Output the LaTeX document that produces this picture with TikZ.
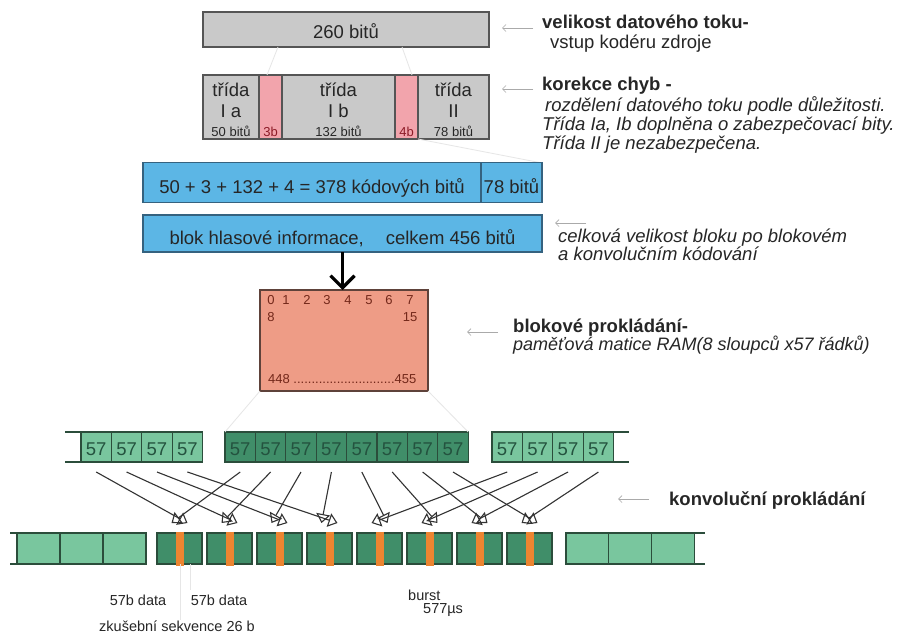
\documentclass[tikz,border=0pt]{standalone}
\usepackage{fontspec}
\setmainfont{Liberation Sans}
\usetikzlibrary{arrows.meta,positioning}

\definecolor{bitgray}{HTML}{C9C9C9}
\definecolor{boxline}{HTML}{555555}
\definecolor{paritypink}{HTML}{F2A4AC}
\definecolor{paritytext}{HTML}{8C1B27}
\definecolor{codeblue}{HTML}{5CB6E5}
\definecolor{blueline}{HTML}{35627F}
\definecolor{ramfill}{HTML}{EE9C86}
\definecolor{ramline}{HTML}{5E423A}
\definecolor{ramtext}{HTML}{73281A}
\definecolor{lightgreen}{HTML}{79C69E}
\definecolor{darkgreen}{HTML}{408E69}
\definecolor{greenline}{HTML}{2B4D3B}
\definecolor{greentext}{HTML}{24533F}
\definecolor{stripe}{HTML}{EC8531}
\definecolor{txt}{HTML}{262626}
\definecolor{ptrgray}{HTML}{AAAAAA}
\definecolor{faintgray}{HTML}{E6E6E6}
\definecolor{mixline}{HTML}{333333}

\newcommand{\bitcount}[1]{{\fontsize{13}{13}\selectfont #1}}

\tikzset{
  bitbox/.style={draw=#1, line width=1.2pt, inner sep=0pt, outer sep=0pt},
  graycell/.style={bitbox=boxline, fill=bitgray, minimum height=64pt, align=center},
  paritycell/.style={bitbox=boxline, fill=paritypink, minimum width=23pt, minimum height=64pt,
    label={[anchor=south, inner sep=2pt, text=paritytext, font=\fontsize{13}{13}\selectfont]south:#1}},
  bluebox/.style={bitbox=blueline, fill=codeblue, minimum height=#1, text height=21pt, text depth=0pt},
  slot/.style={bitbox=greenline, fill=#1, minimum width=30.4pt, minimum height=30pt,
    text=greentext, font=\fontsize{18.5}{18}\selectfont, text height=16pt, text depth=0pt},
  framecell/.style={bitbox=greenline, fill=lightgreen, minimum width=#1, minimum height=31pt},
  burst/.style={bitbox=greenline, fill=darkgreen, minimum width=45pt, minimum height=31pt},
  note/.style={anchor=base west, inner sep=0pt, text=txt},
  burstnote/.style={inner sep=0pt, text=txt, font=\fontsize{14.5}{15}\selectfont},
  ramnum/.style={anchor=base, inner sep=0pt, text=ramtext, font=\fontsize{13}{13}\selectfont},
  ptr/.style={draw=ptrgray, line width=0.7pt, -{Straight Barb[length=3.5pt,width=7pt]}},
  mix/.style={draw=mixline, line width=1.1pt, -{Triangle[open,length=9pt,width=14pt]}},
  feed/.style={line width=3.2pt, -{Straight Barb[length=12pt,width=24pt]}},
  faint/.style={draw=faintgray, line width=0.8pt},
}

\begin{document}
\begin{tikzpicture}[x=1pt, y=-1pt, text=txt, font=\fontsize{18.5}{21}\selectfont]
  \fill[white] (0,0) rectangle (899,637);
  \useasboundingbox (0,0) rectangle (899,637);

  % speech frame and the protection classes
  \node[bitbox=boxline, fill=bitgray, minimum width=286pt, minimum height=35pt,
        text height=17pt, text depth=0pt] (rate) at (346,29.5) {260 bitů};
  \node[graycell, minimum width=56pt] (ia) at (231,107)
    {\rule{0pt}{20pt}třída\\I a\\[-2pt]\bitcount{50 bitů}};
  \node[paritycell=3b] (p3) at (270.5,107) {};
  \node[graycell, minimum width=113pt] (ib) at (338.5,107)
    {\rule{0pt}{20pt}třída\\I b\\[-2pt]\bitcount{132 bitů}};
  \node[paritycell=4b] (p4) at (406.5,107) {};
  \node[graycell, minimum width=71pt] (cii) at (453.5,107)
    {\rule{0pt}{20pt}třída\\II\\[-2pt]\bitcount{78 bitů}};
  \draw[faint] (278,47) -- (267,75) (402,47) -- (412,75);
  \draw[faint] (cii.south west) -- (542,163);

  % coded block
  \node[bluebox=40pt, minimum width=338pt] (coded) at (312,182.5) {50 + 3 + 132 + 4 = 378 kódových bitů};
  \node[bluebox=40pt, minimum width=61pt, anchor=west] (plain) at (coded.east) {78 bitů};
  \node[bluebox=37pt, minimum width=399pt] (blok) at (342.5,233.5)
    {blok hlasové informace,\hspace{22pt}celkem 456 bitů};

  % interleaving matrix
  \node[bitbox=ramline, fill=ramfill, minimum width=168pt, minimum height=101pt] (ram) at (344,340.5) {};
  \draw[feed] (blok.south) -- (blok.south |- ram.north);
  \foreach \c/\x in {0/271,1/286,2/307,3/327,4/348,5/369,6/389,7/410}
    \node[ramnum] (col\c) at (\x,304) {\c};
  \node[ramnum] (row8) at (271,321) {8};
  \node[ramnum] (row15) at (410,321) {15};
  \node[ramnum, anchor=base west] (rowlast) at (268,383) {448 ............................455};

  % sub-blocks of 57 bits
  \foreach \i in {1,...,4} {
    \node[slot=lightgreen] (l\i) at ({65.8+30.4*\i},447) {57};
    \node[slot=lightgreen] (r\i) at ({476.8+30.4*\i},447) {57};
  }
  \foreach \i in {1,...,8}
    \node[slot=darkgreen] (m\i) at ({209.8+30.4*\i},447) {57};
  \draw[greenline, line width=1.2pt] (l1.north west) -- ++(-16,0) (l1.south west) -- ++(-16,0)
    (r4.north east) -- ++(15,0) (r4.south east) -- ++(15,0);
  \draw[faint] (ram.south west) -- (m1.north west) (ram.south east) -- (m8.north east);

  % bursts
  \foreach \i in {1,2,3} {
    \node[framecell=43pt] (f\i) at ({-4.5+43*\i},548.5) {};
    \node[framecell=42.7pt] (g\i) at ({544.7+42.7*\i},548.5) {};
  }
  \foreach \i in {1,...,8} {
    \node[burst] (b\i) at ({129.5+50*\i},548.5) {};
    \fill[stripe] ([xshift=-4pt,yshift=1.5pt]b\i.north) rectangle ([xshift=4pt,yshift=-1.5pt]b\i.south);
  }
  \draw[greenline, line width=1.2pt] (f1.north west) -- ++(-7,0) (f1.south west) -- ++(-7,0)
    (g3.north east) -- ++(11,0) (g3.south east) -- ++(11,0);

  % diagonal interleaving
  \foreach \s/\d in {l1/b1,l2/b2,l3/b3,l4/b4,m5/b5,m6/b6,m7/b7,m8/b8}
    \draw[mix] ([yshift=-10pt]\s.south) -- ([xshift=8pt,yshift=10pt]\d.north);
  \foreach \s/\d in {m1/b1,m2/b2,m3/b3,m4/b4,r1/b5,r2/b6,r3/b7,r4/b8}
    \draw[mix] ([yshift=-10pt]\s.south) -- ([xshift=-8pt,yshift=10pt]\d.north);

  % notes on the right
  \node[note, font=\fontsize{18.5}{21}\selectfont\bfseries] (ratehead) at (542,28) {velikost datového toku-};
  \node[note] (ratesub) at (550,48) {vstup kodéru zdroje};
  \node[note, font=\fontsize{18.5}{21}\selectfont\bfseries] (fechead) at (542,90) {korekce chyb -};
  \node[note, font=\fontsize{18.5}{21}\selectfont\itshape] (fec1) at (545,111) {rozdělení datového toku podle důležitosti.};
  \node[note, font=\fontsize{18.5}{21}\selectfont\itshape] (fec2) at (542,130) {Třída Ia, Ib doplněna o zabezpečovací bity.};
  \node[note, font=\fontsize{18.5}{21}\selectfont\itshape] (fec3) at (542,149) {Třída II je nezabezpečena.};
  \node[note, font=\fontsize{18.5}{21}\selectfont\itshape] (blok1) at (558,242) {celková velikost bloku po blokovém};
  \node[note, font=\fontsize{18.5}{21}\selectfont\itshape] (blok2) at (558,260) {a konvolučním kódování};
  \node[note, font=\fontsize{18.5}{21}\selectfont\bfseries] (ramhead) at (513,332) {blokové prokládání-};
  \node[note, font=\fontsize{18}{21}\selectfont\itshape] (ramsub) at (513,350) {paměťová matice RAM(8 sloupců x57 řádků)};
  \node[note, font=\fontsize{18.5}{21}\selectfont\bfseries] (ilvhead) at (669,505) {konvoluční prokládání};

  \coordinate (ratetip) at (502,28);
  \coordinate (fectip) at (502,89);
  \coordinate (bloktip) at (555,223);
  \coordinate (ramtip) at (467,332);
  \coordinate (ilvtip) at (618,499);
  \foreach \t in {ratetip,fectip,bloktip,ramtip,ilvtip}
    \draw[ptr] ([xshift=31pt]\t) -- (\t);

  % burst legend
  \node[burstnote, anchor=base] (data1) at (138,605) {57b data};
  \node[burstnote, anchor=base] (data2) at (219,605) {57b data};
  \node[burstnote, anchor=base] (training) at (177,631) {zkušební sekvence 26 b};
  \node[burstnote, anchor=base west] (burstlbl) at (408,600) {burst};
  \node[burstnote, anchor=base west] (burstlen) at (423,613) {577µs};
  \draw[faint] ([xshift=1pt]b1.south) -- ([xshift=1pt]b1.south |- training.north)
    ([xshift=11pt]b1.south) -- ++(0,26);
\end{tikzpicture}
\end{document}
